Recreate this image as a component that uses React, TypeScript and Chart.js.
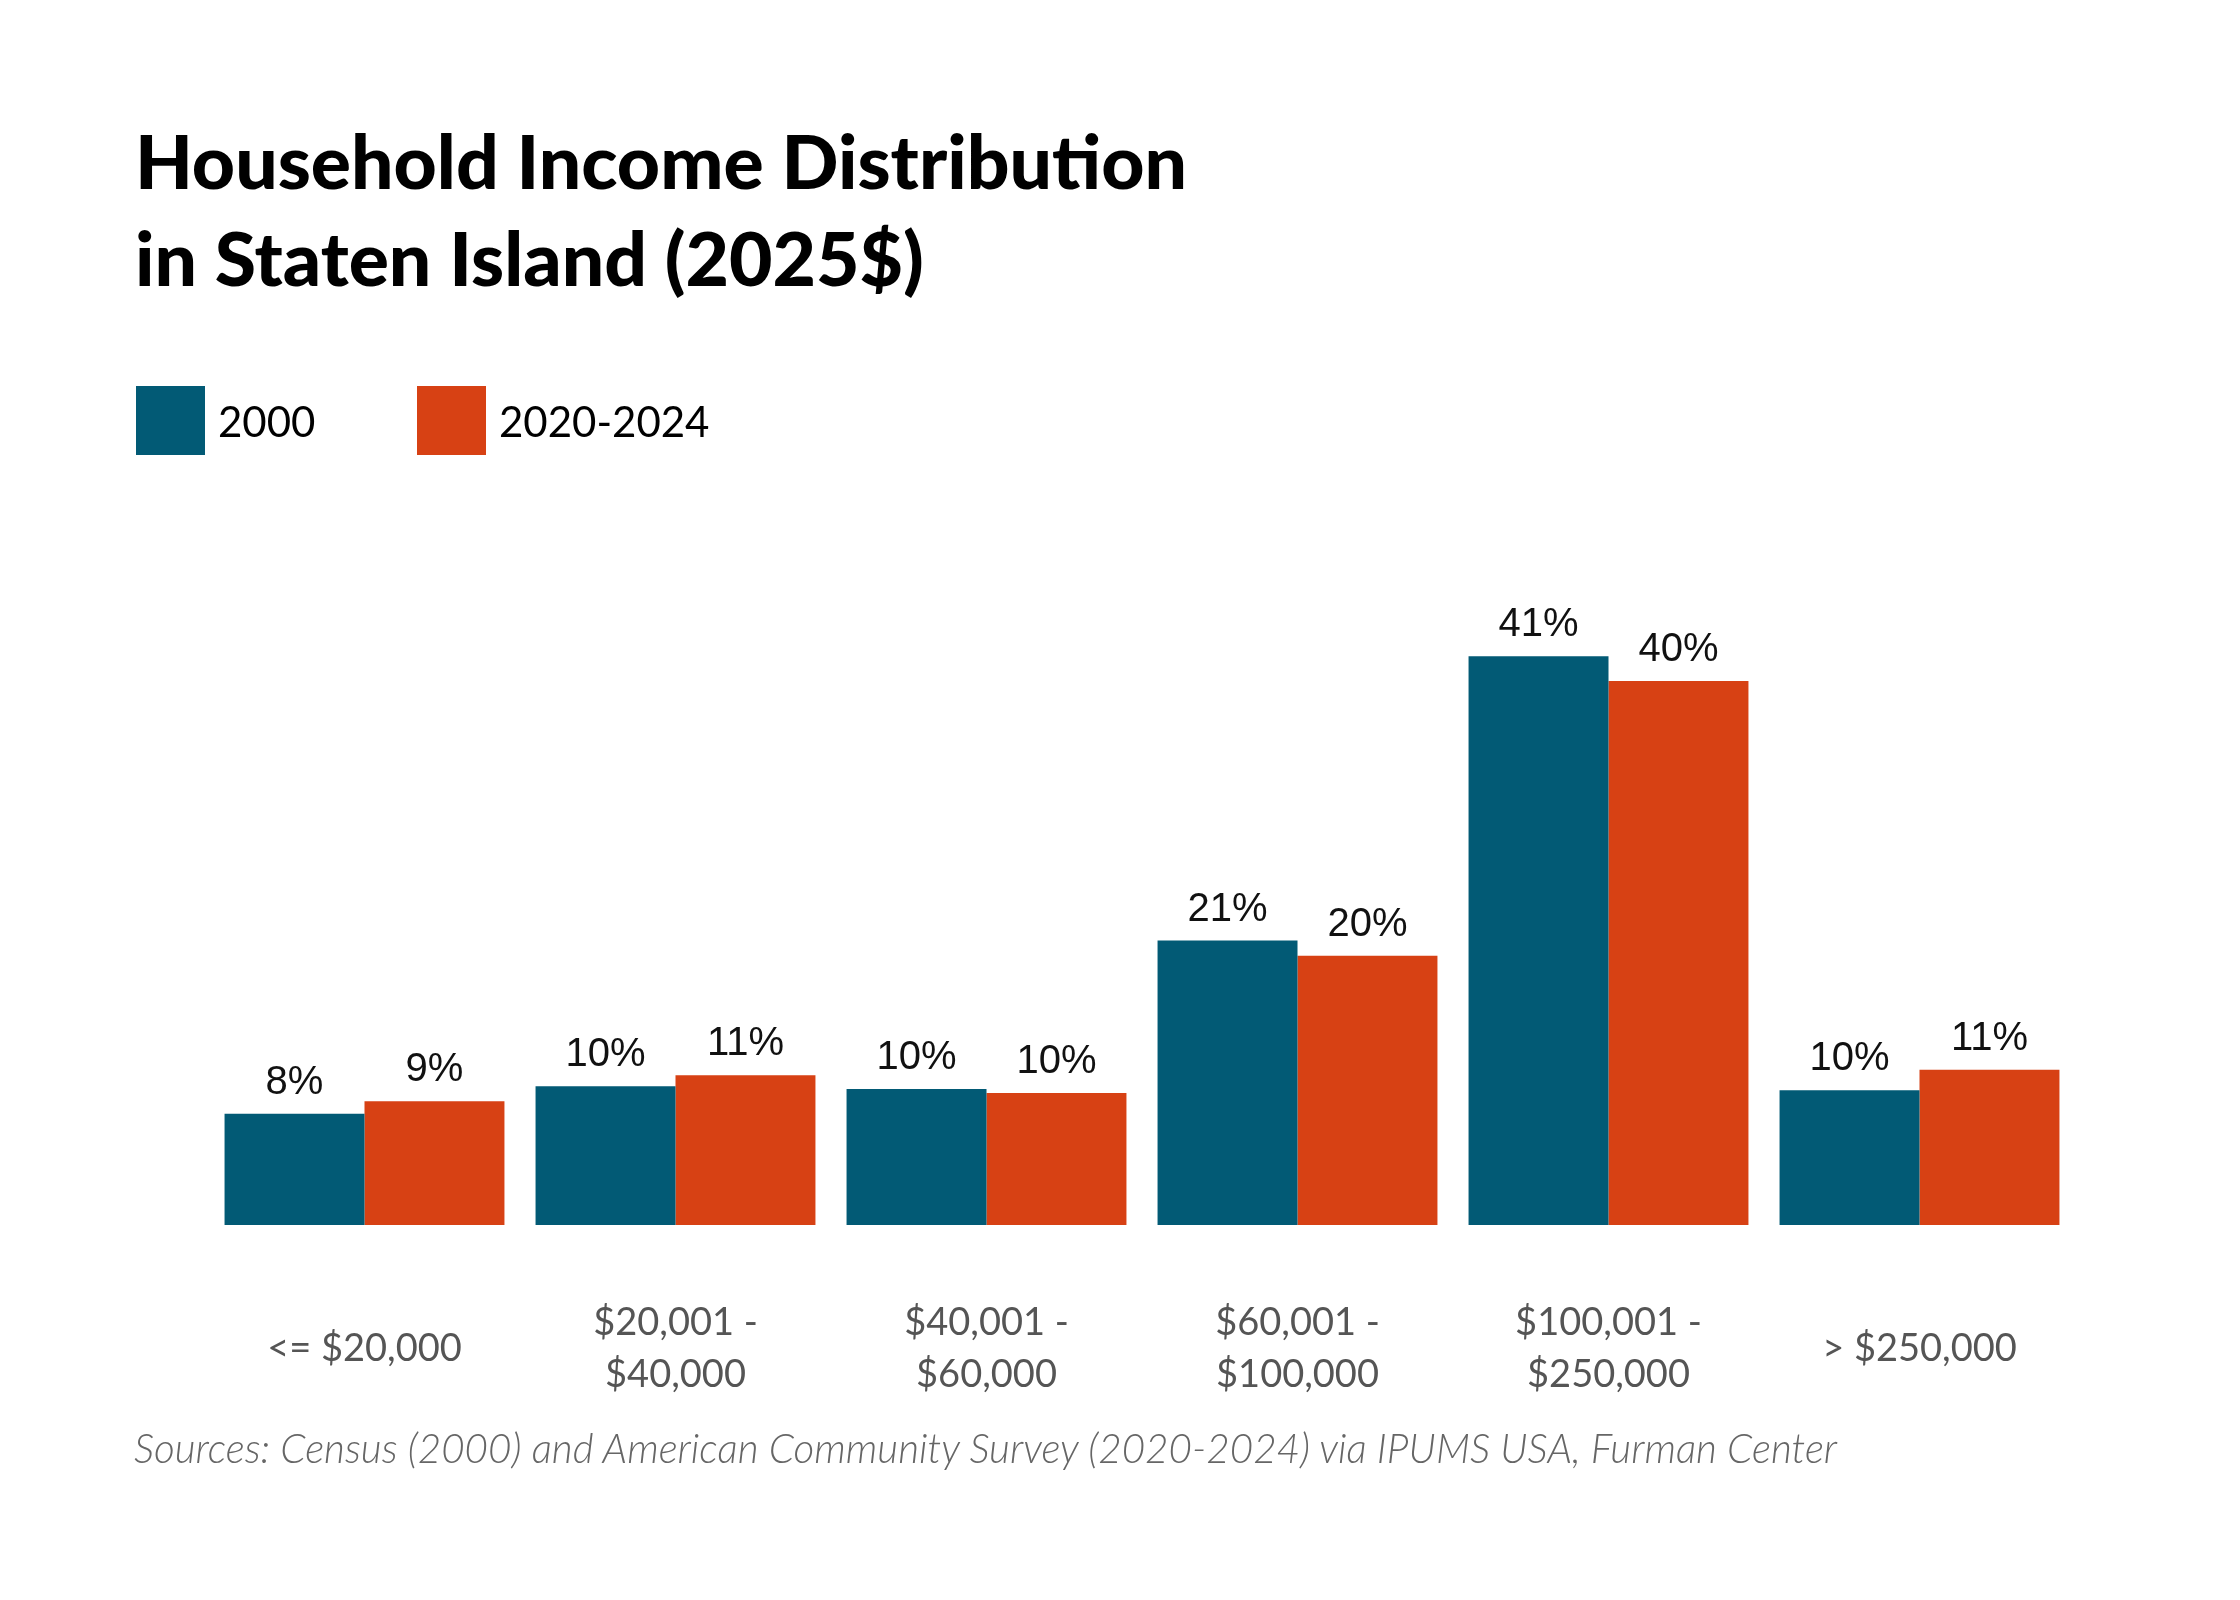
import { useEffect, useRef } from "react"
import { Chart, registerables } from "chart.js"

Chart.register(...registerables)

// income brackets (x axis), split into lines the way they are printed
const categories: string[][] = [
  ["<= $20,000"],
  ["$20,001 -", "$40,000"],
  ["$40,001 -", "$60,000"],
  ["$60,001 -", "$100,000"],
  ["$100,001 -", "$250,000"],
  ["> $250,000"],
]

// share of households, percent
const share2000 = [8.1, 10.1, 9.9, 20.7, 41.4, 9.8]
const share2020 = [9.0, 10.9, 9.6, 19.6, 39.6, 11.3]

const seriesLabels = ["2000", "2020-2024"]
const seriesColors = ["#025a75", "#d74114"]

const titleLines = ["Household Income Distribution", "in Staten Island (2025$)"]
const sourceNote =
  "Sources: Census (2000) and American Community Survey (2020-2024) via IPUMS USA, Furman Center"

// percent labels above every bar
const barLabels = {
  id: "barLabels",
  afterDatasetsDraw(chart: Chart) {
    const { ctx } = chart
    ctx.save()
    ctx.font = '40px "Liberation Sans", Arial, sans-serif'
    ctx.fillStyle = "#111"
    ctx.textAlign = "center"
    ctx.textBaseline = "alphabetic"
    chart.data.datasets.forEach((ds, i) => {
      const meta = chart.getDatasetMeta(i)
      meta.data.forEach((bar, j) => {
        const v = ds.data[j] as number
        ctx.fillText(Math.round(v) + "%", bar.x, bar.y - 20)
      })
    })
    ctx.restore()
  },
}

export default function App() {
  const canvasRef = useRef<HTMLCanvasElement>(null)

  useEffect(() => {
    document.body.style.margin = "0"
    if (!canvasRef.current) return
    const ctx = canvasRef.current.getContext("2d")
    if (!ctx) return

    const chart = new Chart(ctx, {
      type: "bar",
      data: {
        labels: categories,
        datasets: [
          {
            label: seriesLabels[0],
            data: share2000,
            backgroundColor: seriesColors[0],
            borderWidth: 0,
          },
          {
            label: seriesLabels[1],
            data: share2020,
            backgroundColor: seriesColors[1],
            borderWidth: 0,
          },
        ],
      },
      options: {
        animation: false,
        responsive: true,
        maintainAspectRatio: false,
        layout: {
          padding: { left: 209, right: 165, top: 538, bottom: 75 },
        },
        datasets: {
          bar: { categoryPercentage: 0.9, barPercentage: 1.0 },
        },
        scales: {
          x: {
            grid: { display: false, drawTicks: false },
            border: { display: false },
            ticks: {
              color: "#555",
              padding: 98,
              crossAlign: "center",
              maxRotation: 0,
              autoSkip: false,
              font: { family: "Lato", size: 38, lineHeight: 52 / 38 },
            },
          },
          y: {
            display: false,
            min: 0,
            max: 50,
          },
        },
        plugins: {
          legend: { display: false },
          tooltip: { enabled: false },
        },
      },
      plugins: [barLabels],
    })

    return () => {
      chart.destroy()
    }
  }, [])

  return (
    <div
      style={{
        position: "relative",
        width: 2240,
        height: 1600,
        overflow: "hidden",
        background: "#fff",
      }}
    >
      <div style={{ position: "absolute", left: 0, top: 0, width: 2240, height: 1600 }}>
        <canvas ref={canvasRef} />
      </div>

      <div
        style={{
          position: "absolute",
          left: 135,
          top: 112,
          margin: 0,
          fontFamily: "Lato, sans-serif",
          fontWeight: 900,
          fontSize: 75,
          lineHeight: "97px",
          color: "#000",
        }}
      >
        {titleLines.map((t) => (
          <div key={t}>{t}</div>
        ))}
      </div>

      {seriesLabels.map((name, i) => (
        <div
          key={name}
          style={{
            position: "absolute",
            left: i === 0 ? 136 : 417,
            top: 386,
            height: 69,
            display: "flex",
            alignItems: "center",
          }}
        >
          <span
            style={{
              display: "inline-block",
              width: 69,
              height: 69,
              background: seriesColors[i],
            }}
          />
          <span
            style={{
              marginLeft: 13,
              fontFamily: "Lato, sans-serif",
              fontSize: 42,
              color: "#000",
            }}
          >
            {name}
          </span>
        </div>
      ))}

      <div
        style={{
          position: "absolute",
          left: 134,
          top: 1428,
          fontFamily: "Lato, sans-serif",
          fontStyle: "italic",
          fontWeight: 300,
          fontSize: 40.4,
          lineHeight: "40px",
          color: "#666",
          whiteSpace: "nowrap",
        }}
      >
        {sourceNote}
      </div>
    </div>
  )
}
